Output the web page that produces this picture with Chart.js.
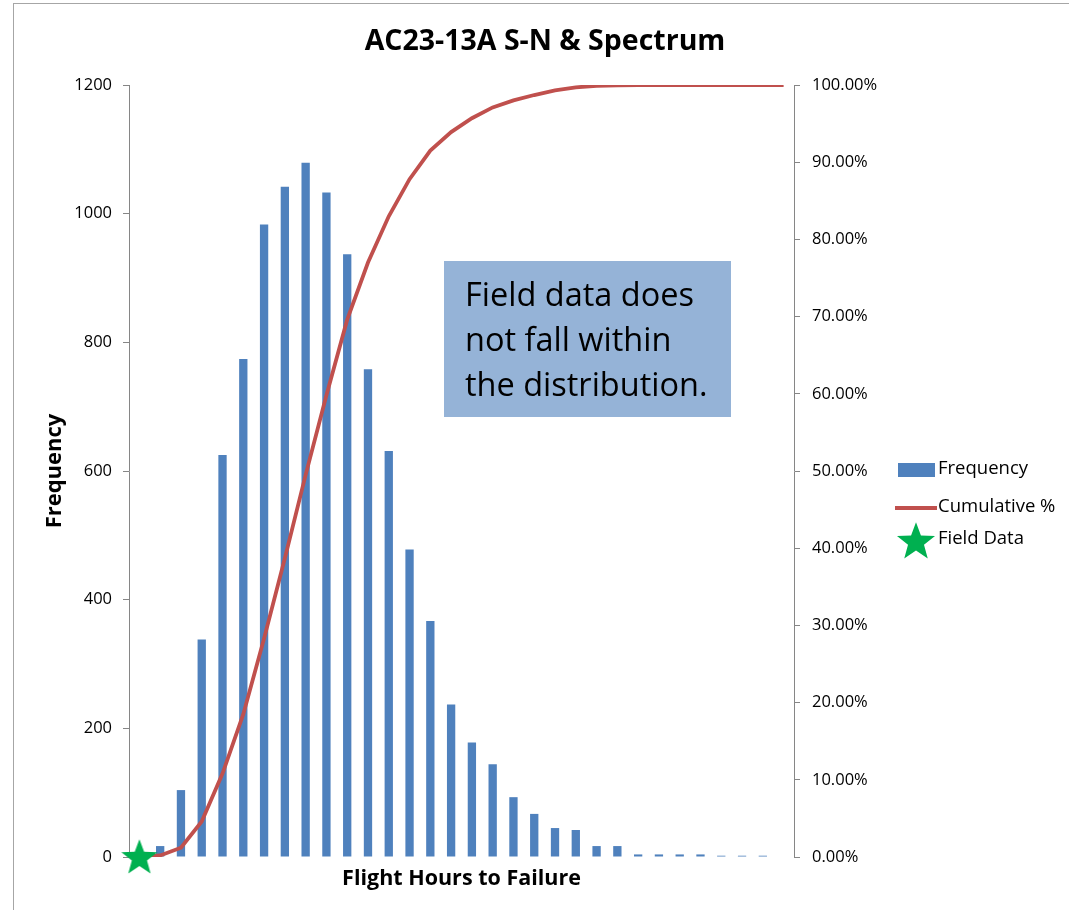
<!DOCTYPE html>
<html>
<head>
<meta charset="utf-8">
<title>AC23-13A S-N &amp; Spectrum</title>
<script src="https://cdn.jsdelivr.net/npm/chart.js@4/dist/chart.umd.min.js"></script>
<style>
  html, body { margin: 0; padding: 0; background: #fff; }
  #wrap { position: relative; width: 1069px; height: 910px; overflow: hidden; }
  #frame { position: absolute; left: 13px; top: 3px; width: 1200px; height: 1200px;
           border: 1px solid #a6a6a6; box-sizing: border-box; }
  #chart { position: absolute; left: 0; top: 0; }
</style>
</head>
<body>
<div id="wrap">
  <div id="frame"></div>
  <canvas id="chart" width="1069" height="910"></canvas>
</div>
<script>
// Histogram bins (bin index along the flight-hours axis)
const bins = ['1','2','3','4','5','6','7','8','9','10','11','12','13','14','15','16',
              '17','18','19','20','21','22','23','24','25','26','27','28','29','30','31','More'];

// Count of simulated failures per bin
const frequency = [0, 17, 104, 338, 625, 774, 983, 1042, 1079, 1033, 937, 758, 631, 478, 367, 237,
                   178, 144, 93, 67, 45, 42, 17, 17, 4, 4, 4, 4, 2, 2, 2, 0];

// Running total of the frequency, in percent
const cumulativePct = [0, 0.2, 1.2, 4.6, 10.8, 18.5, 28.3, 38.7, 49.5, 59.8, 69.6, 77.0, 83.0, 87.8, 91.5, 93.9,
                       95.7, 97.1, 98.0, 98.7, 99.3, 99.7, 99.9, 99.95, 100, 100, 100, 100, 100, 100, 100, 100];

// Observed field failure, placed on the first bin at zero count
const fieldData = [0, null, null, null, null, null, null, null, null, null, null, null, null, null, null, null,
                   null, null, null, null, null, null, null, null, null, null, null, null, null, null, null, null];

const freqTicks = [0, 200, 400, 600, 800, 1000, 1200];
const pctTicks = [0, 10, 20, 30, 40, 50, 60, 70, 80, 90, 100];

const noteLines = ['Field data does', 'not fall within', 'the distribution.'];

const FONT = "'Open Sans', 'Noto Sans', sans-serif";
const BLUE = '#4F81BD';
const RED = '#C0504D';
const GREEN = '#00B050';

// Filled five-point star used as a point marker
function makeStar(r, color) {
  const c = document.createElement('canvas');
  const s = Math.ceil(r * 2 + 2);
  c.width = s; c.height = s;
  const g = c.getContext('2d');
  const cx = s / 2, cy = s / 2 + r * 0.06;
  const inner = r * 0.42;
  g.beginPath();
  for (let i = 0; i < 10; i++) {
    const rad = (i % 2 === 0) ? r : inner;
    const a = -Math.PI / 2 + i * Math.PI / 5;
    const x = cx + rad * Math.cos(a), y = cy + rad * Math.sin(a);
    if (i === 0) g.moveTo(x, y); else g.lineTo(x, y);
  }
  g.closePath();
  g.fillStyle = color;
  g.fill();
  return c;
}
const starMarker = makeStar(19, GREEN);
const starLegend = makeStar(20, GREEN);

// Text box placed inside the plot
const notePlugin = {
  id: 'noteBox',
  afterDatasetsDraw(chart) {
    const ctx = chart.ctx;
    ctx.save();
    ctx.fillStyle = '#95B3D7';
    ctx.fillRect(444, 261, 287, 156);
    ctx.fillStyle = '#000';
    ctx.font = '32.5px ' + FONT;
    ctx.textBaseline = 'alphabetic';
    ctx.textAlign = 'left';
    noteLines.forEach((t, i) => ctx.fillText(t, 465, 306 + i * 45));
    ctx.restore();
  }
};

// Legend at the right, drawn from the dataset styles
const legendPlugin = {
  id: 'sideLegend',
  afterDraw(chart) {
    const ctx = chart.ctx;
    const ds = chart.data.datasets;
    ctx.save();
    ctx.font = '18.5px ' + FONT;
    ctx.fillStyle = '#000';
    ctx.textBaseline = 'middle';
    ctx.textAlign = 'left';
    // Frequency
    ctx.fillStyle = ds[0].backgroundColor;
    ctx.fillRect(898, 463, 37, 14);
    ctx.fillStyle = '#000';
    ctx.fillText(ds[0].label, 938, 469);
    // Cumulative %
    ctx.strokeStyle = ds[1].borderColor;
    ctx.lineWidth = ds[1].borderWidth;
    ctx.beginPath(); ctx.moveTo(895, 508); ctx.lineTo(937, 508); ctx.stroke();
    ctx.fillText(ds[1].label, 938, 507);
    // Field Data
    ctx.drawImage(starLegend, 916 - starLegend.width / 2, 541 - starLegend.height / 2);
    ctx.fillText(ds[2].label, 938, 539);
    ctx.restore();
  }
};

Chart.defaults.font.family = FONT;
Chart.defaults.color = '#000';

new Chart(document.getElementById('chart'), {
  data: {
    labels: bins,
    datasets: [
      {
        type: 'bar', label: 'Frequency', data: frequency, yAxisID: 'y',
        backgroundColor: BLUE, borderWidth: 0,
        categoryPercentage: 1.0, barPercentage: 0.4, order: 3
      },
      {
        type: 'line', label: 'Cumulative %', data: cumulativePct, yAxisID: 'y1',
        borderColor: RED, borderWidth: 3.8, pointRadius: 0, tension: 0, fill: false, order: 2
      },
      {
        type: 'line', label: 'Field Data', data: fieldData, yAxisID: 'y',
        showLine: false, pointStyle: starMarker, pointRadius: 19, clip: false,
        backgroundColor: GREEN, borderColor: GREEN, order: 1
      }
    ]
  },
  options: {
    responsive: false,
    animation: false,
    layout: { padding: { left: 21, right: 0, top: 0, bottom: 0 } },
    plugins: {
      legend: { display: false },
      tooltip: { enabled: false },
      title: {
        display: true,
        text: 'AC23-13A S-N & Spectrum',
        font: { size: 28.5, weight: 'bold', family: FONT },
        color: '#000',
        padding: { top: 24.9, bottom: 25.9 }
      }
    },
    scales: {
      x: {
        type: 'category',
        offset: true,
        grid: { display: false },
        border: { display: false },
        ticks: { display: false },
        title: {
          display: true, text: 'Flight Hours to Failure',
          font: { size: 21.5, weight: 'bold', family: FONT },
          padding: { top: 0, bottom: 18.6 }
        },
        afterFit(s) { s.height = 53; }
      },
      y: {
        position: 'left',
        min: 0, max: 1200,
        afterBuildTicks(s) { s.ticks = freqTicks.map(v => ({ value: v })); },
        ticks: { font: { size: 16.5 }, padding: 11, color: '#000', callback: v => String(v) },
        grid: { drawOnChartArea: false, drawTicks: true, tickLength: 6, color: '#868686' },
        border: { display: true, color: '#868686', width: 1 },
        title: {
          display: true, text: 'Frequency',
          font: { size: 22, weight: 'bold', family: FONT },
          padding: { top: 20.8, bottom: 0 }
        },
        afterFit(s) { s.width = 108; }
      },
      y1: {
        position: 'right',
        min: 0, max: 100,
        afterBuildTicks(s) { s.ticks = pctTicks.map(v => ({ value: v })); },
        ticks: { font: { size: 16.5 }, padding: 12, color: '#000',
                 callback: v => v.toFixed(2) + '%' },
        grid: { drawOnChartArea: false, drawTicks: true, tickLength: 6, color: '#868686' },
        border: { display: true, color: '#868686', width: 1 },
        afterFit(s) { s.width = 275; }
      }
    }
  },
  plugins: [notePlugin, legendPlugin]
});
</script>
</body>
</html>
